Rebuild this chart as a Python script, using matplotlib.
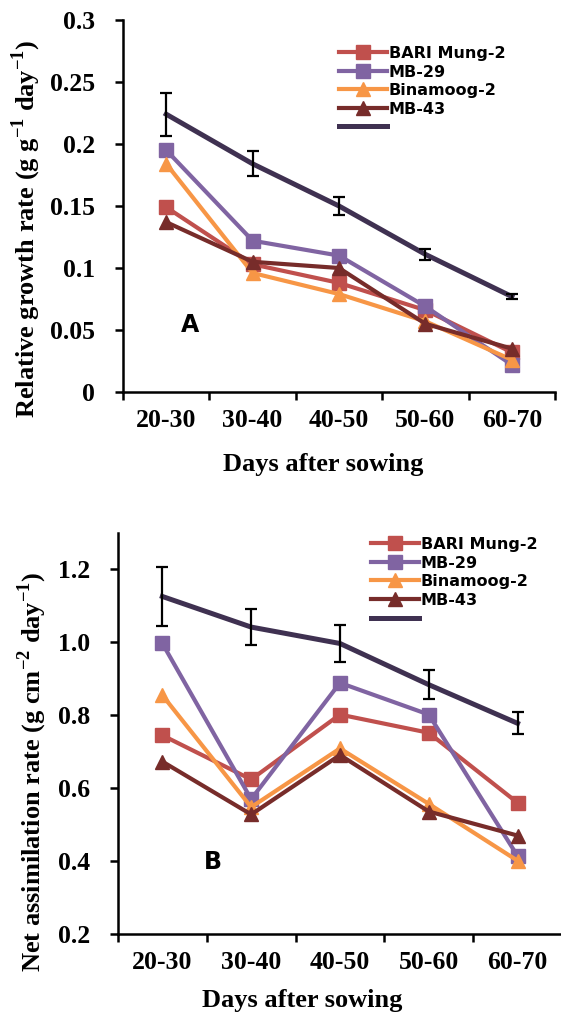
from matplotlib import pyplot as plt
import numpy as np

plt.rcParams['font.family'] = 'Liberation Serif'
plt.rcParams['font.weight'] = 'bold'
plt.rcParams['axes.labelweight'] = 'bold'
plt.rcParams['mathtext.fontset'] = 'custom'
plt.rcParams['mathtext.rm'] = 'Liberation Serif:bold'
plt.rcParams['mathtext.bf'] = 'Liberation Serif:bold'

days = ['20-30', '30-40', '40-50', '50-60', '60-70']
varieties = ['BARI Mung-2', 'MB-29', 'Binamoog-2', 'MB-43']
colors = ['#C0504D', '#8064A2', '#F79646', '#772C2A']
markers = ['s', 's', '^', '^']
mean_color = '#3F3151'

# relative growth rate (A)
rgr_bari = [0.149, 0.103, 0.088, 0.066, 0.032]
rgr_mb29 = [0.195, 0.122, 0.110, 0.069, 0.022]
rgr_bina = [0.184, 0.096, 0.079, 0.057, 0.026]
rgr_mb43 = [0.137, 0.105, 0.100, 0.055, 0.035]
rgr_mean = [0.224, 0.184, 0.150, 0.111, 0.077]
rgr_err = [0.0175, 0.010, 0.0075, 0.0047, 0.0023]

# net assimilation rate (B)
nar_bari = [0.745, 0.624, 0.802, 0.752, 0.560]
nar_mb29 = [0.997, 0.570, 0.889, 0.802, 0.414]
nar_bina = [0.855, 0.548, 0.709, 0.557, 0.401]
nar_mb43 = [0.673, 0.528, 0.691, 0.536, 0.470]
nar_mean = [1.126, 1.042, 0.997, 0.884, 0.778]
nar_err = [0.081, 0.050, 0.050, 0.040, 0.030]


def draw_panel(ax, series, mean, err, ylim, yticks, ytick_labels, ylabel,
               letter, letter_xy, ylabel_xy, xlabel_xy, legend_xy):
    x = np.arange(len(days))
    handles = []
    for vals, c, m, name in zip(series, colors, markers, varieties):
        h, = ax.plot(x, vals, color=c, marker=m, markersize=9.5, lw=3, label=name)
        handles.append(h)
    h, = ax.plot(x, mean, color=mean_color, lw=3.6, zorder=5)
    ax.errorbar(x, mean, yerr=err, fmt='none', ecolor='black', elinewidth=1.6,
                capsize=4.5, capthick=1.6, zorder=6)
    handles.append(h)

    ax.set_xlim(-0.5, len(days) - 0.5)
    ax.set_ylim(*ylim)
    ax.set_yticks(yticks)
    ax.set_yticklabels(ytick_labels)
    ax.set_xticks(x)
    ax.set_xticklabels(days)
    ax.set_xticks(np.arange(len(days) + 1) - 0.5, minor=True)
    ax.tick_params(axis='x', which='major', length=0, labelsize=18.5, pad=12)
    ax.tick_params(axis='x', which='minor', length=6, width=1.8, direction='out')
    ax.tick_params(axis='y', length=6, width=1.8, direction='out', labelsize=18.5, pad=14)
    for s in ['top', 'right']:
        ax.spines[s].set_visible(False)
    for s in ['left', 'bottom']:
        ax.spines[s].set_linewidth(1.8)

    ax.set_ylabel(ylabel, fontsize=19, fontweight='bold', va='center')
    ax.yaxis.set_label_coords(*ylabel_xy)
    ax.set_xlabel('Days after sowing', fontsize=19, fontweight='bold', va='center')
    ax.xaxis.set_label_coords(*xlabel_xy)

    ax.text(letter_xy[0], letter_xy[1], letter, transform=ax.transAxes,
            fontsize=17, family='DejaVu Sans', weight='bold', ha='center', va='center')

    ax.legend(handles, varieties + [' '], loc='upper left', bbox_to_anchor=legend_xy,
              frameon=False, handlelength=3.0, handletextpad=0.1, labelspacing=0.22,
              borderaxespad=0, borderpad=0,
              prop={'family': 'DejaVu Sans', 'weight': 'bold', 'size': 11.5})


fig = plt.figure(figsize=(5.61, 10.13), dpi=100)

ax1 = fig.add_axes([0.2193, 0.6130, 0.770, 0.3673])
draw_panel(ax1, [rgr_bari, rgr_mb29, rgr_bina, rgr_mb43], rgr_mean, rgr_err,
           (0, 0.3), np.arange(0, 0.301, 0.05),
           ['0', '0.05', '0.1', '0.15', '0.2', '0.25', '0.3'],
           r'Relative growth rate (g g$^{\mathbf{-1}}$ day$^{\mathbf{-1}}$)',
           'A', (0.155, 0.18), (-0.225, 0.44), (0.463, -0.196), (0.50, 0.93))

ax2 = fig.add_axes([0.2103, 0.078, 0.7914, 0.3958])
draw_panel(ax2, [nar_bari, nar_mb29, nar_bina, nar_mb43], nar_mean, nar_err,
           (0.2, 1.3), np.arange(0.2, 1.21, 0.2),
           ['0.2', '0.4', '0.6', '0.8', '1.0', '1.2'],
           r'Net assimilation rate (g cm$^{\mathbf{-2}}$ day$^{\mathbf{-1}}$)',
           'B', (0.214, 0.18), (-0.194, 0.404), (0.414, -0.165), (0.57, 0.99))

fig.savefig('out.png', dpi=100)
